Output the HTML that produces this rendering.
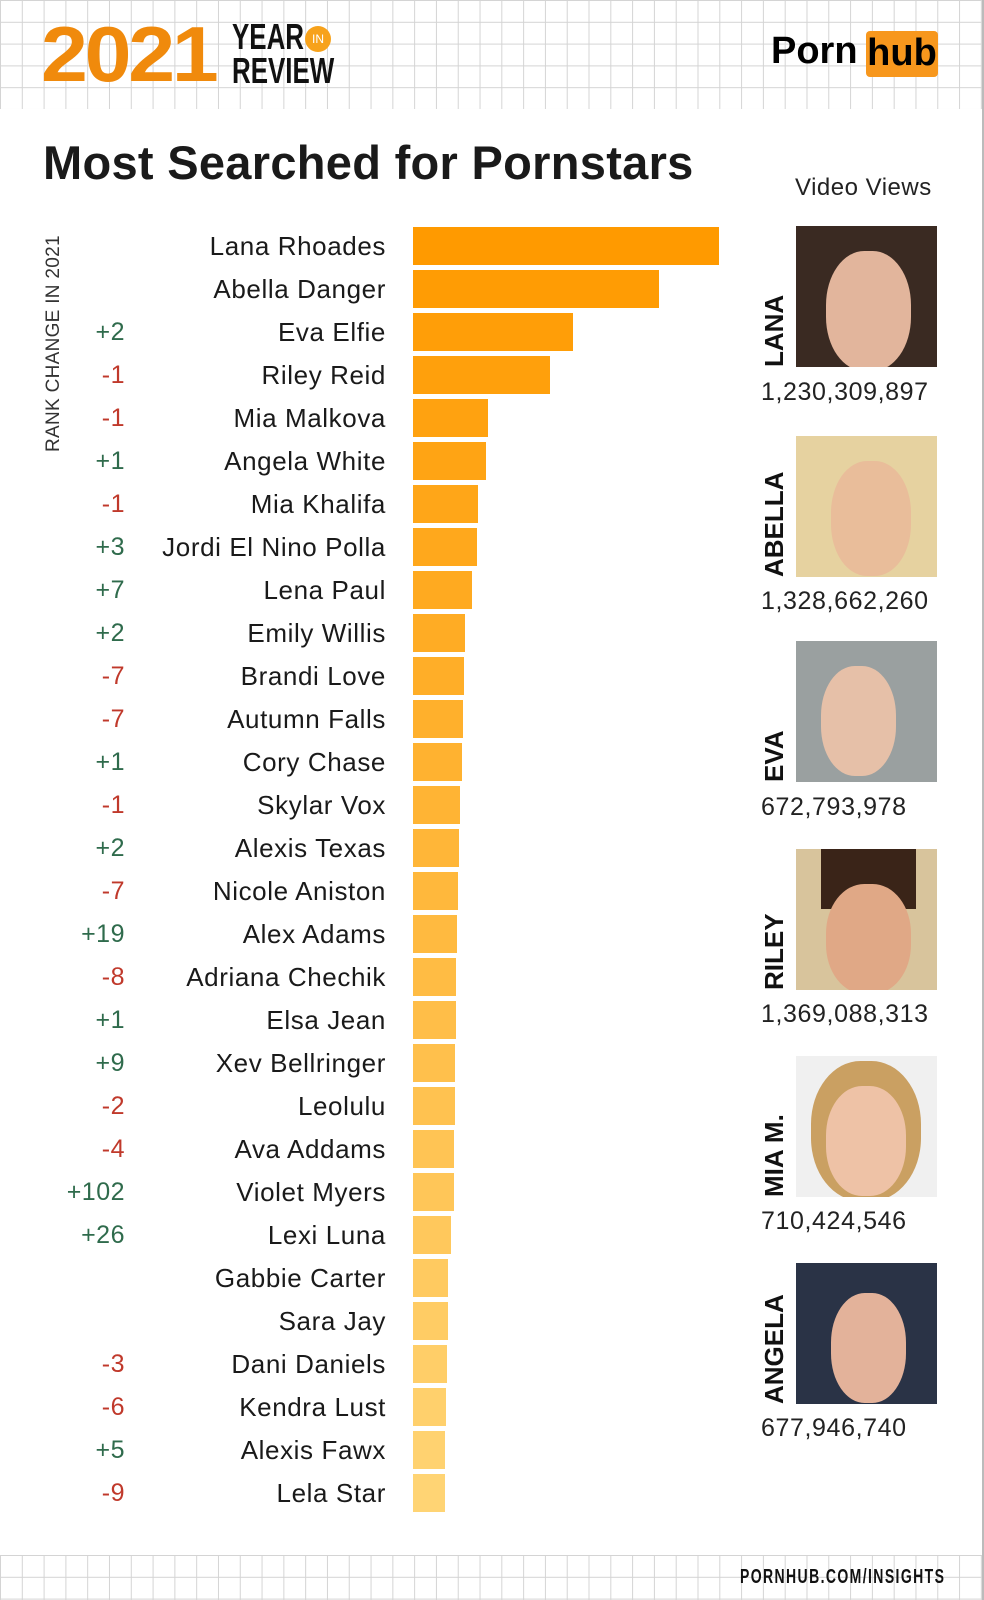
<!DOCTYPE html>
<html><head><meta charset="utf-8"><style>
body{margin:0;width:984px;height:1600px;position:relative;background:#fff;font-family:"Liberation Sans",sans-serif;overflow:hidden}
.grid{position:absolute;left:0;width:982px;background-image:linear-gradient(#d4d4d4 1px,transparent 1px),linear-gradient(90deg,#d4d4d4 1px,transparent 1px);background-size:21.8px 21.8px}
.a{position:absolute}
.n{position:absolute;right:598px;font-size:26px;color:#1a1a1a;white-space:nowrap;line-height:39px;letter-spacing:.6px}
.c{position:absolute;right:859px;font-size:25px;line-height:39px;letter-spacing:.5px}
.g{color:#2f6b4c}.r{color:#c0392b}
.b{position:absolute;left:413px;height:38px}
.p{position:absolute;left:796px;width:141px;height:141px;overflow:hidden;background:#777}
.v{position:absolute;left:761px;font-size:25px;color:#222;letter-spacing:.6px}
.vn{position:absolute;font-weight:bold;font-size:26px;color:#111;transform:rotate(-90deg);transform-origin:left top;white-space:nowrap}
</style></head><body>
<div class="grid" style="top:0;height:109px"></div>
<div class="grid" style="top:1555px;height:45px"></div>
<div class="a" style="left:982px;top:0;width:2px;height:1600px;background:#bbb"></div>
<div class="a" style="left:41px;top:14px;font-size:78px;font-weight:bold;color:#f08a0c;letter-spacing:-3px;line-height:80px;transform:scaleX(1.08);transform-origin:left">2021</div>
<div class="a" style="left:232px;top:20px;font-size:36px;font-weight:bold;color:#111;line-height:34px;transform:scaleX(.72);transform-origin:left">YEAR<br>REVIEW</div>
<div class="a" style="left:305px;top:26px;width:26px;height:26px;border-radius:50%;background:#f7a21b;color:#fff;font-size:12px;text-align:center;line-height:26px">IN</div>
<div class="a" style="left:771px;top:28px;font-size:38px;font-weight:bold;color:#000;line-height:46px">Porn</div>
<div class="a" style="left:866px;top:31px;width:72px;height:46px;background:#f7971d;border-radius:4px;font-size:38px;font-weight:bold;color:#000;line-height:44px;text-align:center">hub</div>
<div class="a" style="left:43px;top:135px;font-size:47px;font-weight:bold;color:#1a1a1a;letter-spacing:.3px">Most Searched for Pornstars</div>
<div class="a" style="left:795px;top:174px;font-size:24px;color:#222;letter-spacing:.5px">Video Views</div>
<div class="a" style="left:43px;top:452px;font-size:19px;color:#333;transform:rotate(-90deg);transform-origin:left top;white-space:nowrap;letter-spacing:.3px">RANK CHANGE IN 2021</div>

<div class="b" style="top:227px;width:306px;background:#ff9a00"></div>
<div class="b" style="top:270px;width:246px;background:#ff9c04"></div>
<div class="b" style="top:313px;width:160px;background:#ff9e08"></div>
<div class="b" style="top:356px;width:137px;background:#ffa00c"></div>
<div class="b" style="top:399px;width:75px;background:#ffa210"></div>
<div class="b" style="top:442px;width:73px;background:#ffa414"></div>
<div class="b" style="top:485px;width:65px;background:#ffa618"></div>
<div class="b" style="top:528px;width:64px;background:#ffa81c"></div>
<div class="b" style="top:571px;width:59px;background:#ffaa20"></div>
<div class="b" style="top:614px;width:52px;background:#ffac24"></div>
<div class="b" style="top:657px;width:51px;background:#ffae28"></div>
<div class="b" style="top:700px;width:50px;background:#ffb02c"></div>
<div class="b" style="top:743px;width:49px;background:#ffb230"></div>
<div class="b" style="top:786px;width:47px;background:#ffb434"></div>
<div class="b" style="top:829px;width:46px;background:#ffb638"></div>
<div class="b" style="top:872px;width:45px;background:#ffb83c"></div>
<div class="b" style="top:915px;width:44px;background:#ffba40"></div>
<div class="b" style="top:958px;width:43px;background:#ffbc44"></div>
<div class="b" style="top:1001px;width:43px;background:#ffbe48"></div>
<div class="b" style="top:1044px;width:42px;background:#ffc04c"></div>
<div class="b" style="top:1087px;width:42px;background:#ffc250"></div>
<div class="b" style="top:1130px;width:41px;background:#ffc454"></div>
<div class="b" style="top:1173px;width:41px;background:#ffc658"></div>
<div class="b" style="top:1216px;width:38px;background:#ffc85c"></div>
<div class="b" style="top:1259px;width:35px;background:#ffca60"></div>
<div class="b" style="top:1302px;width:35px;background:#ffcc64"></div>
<div class="b" style="top:1345px;width:34px;background:#ffce68"></div>
<div class="b" style="top:1388px;width:33px;background:#ffd06c"></div>
<div class="b" style="top:1431px;width:32px;background:#ffd270"></div>
<div class="b" style="top:1474px;width:32px;background:#ffd474"></div>

<div class="n" style="top:227px">Lana Rhoades</div>
<div class="n" style="top:270px">Abella Danger</div>
<div class="n" style="top:313px">Eva Elfie</div><div class="c g" style="top:313px">+2</div>
<div class="n" style="top:356px">Riley Reid</div><div class="c r" style="top:356px">-1</div>
<div class="n" style="top:399px">Mia Malkova</div><div class="c r" style="top:399px">-1</div>
<div class="n" style="top:442px">Angela White</div><div class="c g" style="top:442px">+1</div>
<div class="n" style="top:485px">Mia Khalifa</div><div class="c r" style="top:485px">-1</div>
<div class="n" style="top:528px">Jordi El Nino Polla</div><div class="c g" style="top:528px">+3</div>
<div class="n" style="top:571px">Lena Paul</div><div class="c g" style="top:571px">+7</div>
<div class="n" style="top:614px">Emily Willis</div><div class="c g" style="top:614px">+2</div>
<div class="n" style="top:657px">Brandi Love</div><div class="c r" style="top:657px">-7</div>
<div class="n" style="top:700px">Autumn Falls</div><div class="c r" style="top:700px">-7</div>
<div class="n" style="top:743px">Cory Chase</div><div class="c g" style="top:743px">+1</div>
<div class="n" style="top:786px">Skylar Vox</div><div class="c r" style="top:786px">-1</div>
<div class="n" style="top:829px">Alexis Texas</div><div class="c g" style="top:829px">+2</div>
<div class="n" style="top:872px">Nicole Aniston</div><div class="c r" style="top:872px">-7</div>
<div class="n" style="top:915px">Alex Adams</div><div class="c g" style="top:915px">+19</div>
<div class="n" style="top:958px">Adriana Chechik</div><div class="c r" style="top:958px">-8</div>
<div class="n" style="top:1001px">Elsa Jean</div><div class="c g" style="top:1001px">+1</div>
<div class="n" style="top:1044px">Xev Bellringer</div><div class="c g" style="top:1044px">+9</div>
<div class="n" style="top:1087px">Leolulu</div><div class="c r" style="top:1087px">-2</div>
<div class="n" style="top:1130px">Ava Addams</div><div class="c r" style="top:1130px">-4</div>
<div class="n" style="top:1173px">Violet Myers</div><div class="c g" style="top:1173px">+102</div>
<div class="n" style="top:1216px">Lexi Luna</div><div class="c g" style="top:1216px">+26</div>
<div class="n" style="top:1259px">Gabbie Carter</div>
<div class="n" style="top:1302px">Sara Jay</div>
<div class="n" style="top:1345px">Dani Daniels</div><div class="c r" style="top:1345px">-3</div>
<div class="n" style="top:1388px">Kendra Lust</div><div class="c r" style="top:1388px">-6</div>
<div class="n" style="top:1431px">Alexis Fawx</div><div class="c g" style="top:1431px">+5</div>
<div class="n" style="top:1474px">Lela Star</div><div class="c r" style="top:1474px">-9</div>

<div class="p" style="top:226px;background:#3a2a22"><div class="a" style="left:30px;top:25px;width:85px;height:120px;border-radius:45%;background:#e2b59c"></div></div>
<div class="p" style="top:436px;background:#e6d2a0"><div class="a" style="left:35px;top:25px;width:80px;height:115px;border-radius:45%;background:#e9bd9a"></div></div>
<div class="p" style="top:641px;background:#9aa0a0"><div class="a" style="left:25px;top:25px;width:75px;height:110px;border-radius:45%;background:#e6c0a8"></div></div>
<div class="p" style="top:849px;background:#d8c49c"><div class="a" style="left:25px;top:0;width:95px;height:60px;background:#3a2418"></div><div class="a" style="left:30px;top:35px;width:85px;height:110px;border-radius:45%;background:#e0a886"></div></div>
<div class="p" style="top:1056px;background:#f0f0f0"><div class="a" style="left:15px;top:5px;width:110px;height:140px;border-radius:45%;background:#caa062"></div><div class="a" style="left:30px;top:30px;width:80px;height:110px;border-radius:45%;background:#eec2a6"></div></div>
<div class="p" style="top:1263px;background:#2a3346"><div class="a" style="left:35px;top:30px;width:75px;height:110px;border-radius:45%;background:#e3b29a"></div></div>

<div class="vn" style="left:759px;top:367px">LANA</div>
<div class="vn" style="left:759px;top:577px">ABELLA</div>
<div class="vn" style="left:759px;top:782px">EVA</div>
<div class="vn" style="left:759px;top:990px">RILEY</div>
<div class="vn" style="left:759px;top:1197px">MIA M.</div>
<div class="vn" style="left:759px;top:1404px">ANGELA</div>

<div class="v" style="top:378px">1,230,309,897</div>
<div class="v" style="top:587px">1,328,662,260</div>
<div class="v" style="top:793px">672,793,978</div>
<div class="v" style="top:1000px">1,369,088,313</div>
<div class="v" style="top:1207px">710,424,546</div>
<div class="v" style="top:1414px">677,946,740</div>

<div class="a" style="left:740px;top:1566px;font-size:20px;font-weight:bold;color:#111;transform:scaleX(.7);transform-origin:left;letter-spacing:2px;white-space:nowrap">PORNHUB.COM/INSIGHTS</div>
</body></html>
